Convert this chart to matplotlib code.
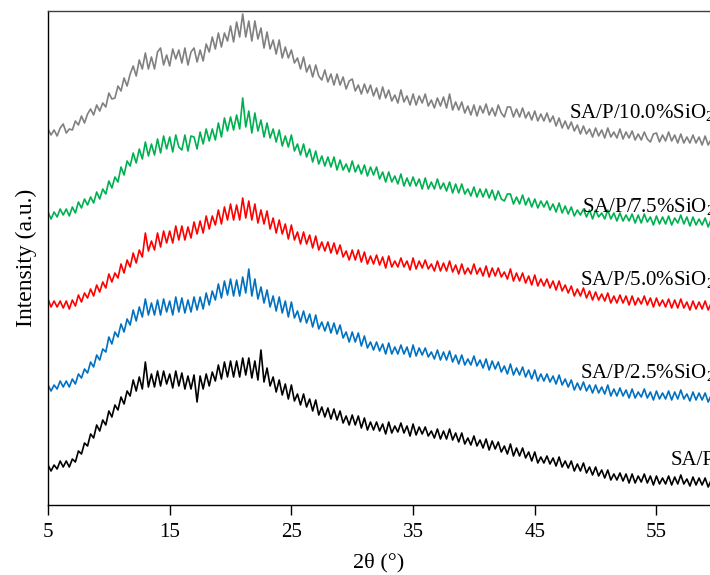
import matplotlib
matplotlib.use("Agg")
import matplotlib.pyplot as plt
import numpy as np

plt.rcParams['font.family'] = ['Liberation Serif', 'DejaVu Serif']
plt.rcParams['mathtext.fontset'] = 'custom'
plt.rcParams['mathtext.rm'] = 'Liberation Serif'
plt.rcParams['mathtext.it'] = 'Liberation Serif:italic'

# 2theta sampling (deg), values read every 0.25 deg off the picture
two_theta = np.arange(5.0, 60.0, 0.25)

# intensities (a.u., already stacked with their offsets), 4 values per degree
sap_10 = [376, 370, 375, 369, 377, 381, 372, 376, 375, 384, 380, 389,
          382, 391, 396, 390, 400, 394, 402, 398, 412, 406, 407, 419,
          414, 427, 419, 431, 439, 429, 445, 436, 452, 436, 448, 436,
          453, 457, 440, 450, 439, 456, 446, 455, 442, 457, 440, 453,
          457, 443, 455, 444, 461, 453, 468, 456, 472, 458, 472, 464,
          479, 463, 483, 468, 491, 468, 484, 464, 484, 466, 477, 457,
          473, 456, 465, 451, 465, 447, 458, 447, 455, 442, 447, 436,
          448, 433, 440, 428, 440, 429, 425, 435, 423, 431, 420, 431,
          420, 428, 416, 424, 426, 414, 420, 411, 421, 412, 420, 409,
          417, 406, 418, 407, 415, 404, 410, 402, 415, 403, 409, 400,
          411, 400, 409, 402, 411, 399, 405, 397, 407, 399, 408, 397,
          411, 395, 403, 395, 403, 392, 399, 390, 400, 389, 399, 392,
          401, 390, 397, 389, 400, 392, 388, 398, 398, 388, 396, 388,
          397, 387, 393, 385, 394, 384, 391, 384, 392, 383, 389, 379,
          387, 377, 384, 376, 383, 374, 380, 371, 379, 371, 376, 368,
          377, 369, 375, 367, 377, 368, 373, 367, 376, 366, 373, 367,
          374, 365, 371, 365, 373, 366, 363, 371, 372, 363, 370, 364,
          373, 364, 370, 362, 371, 362, 368, 362, 370, 362, 368, 360,
          369, 360, 366, 360]
sap_75 = [293, 286, 293, 288, 296, 290, 296, 289, 298, 292, 303, 297,
          306, 300, 308, 302, 313, 306, 316, 311, 324, 317, 328, 323,
          338, 330, 344, 339, 352, 342, 356, 346, 363, 349, 361, 350,
          366, 352, 369, 356, 368, 353, 370, 358, 355, 370, 354, 369,
          368, 356, 373, 361, 376, 364, 376, 365, 382, 368, 387, 374,
          388, 375, 390, 376, 407, 378, 394, 372, 392, 374, 385, 368,
          382, 367, 376, 363, 375, 359, 369, 358, 370, 354, 361, 350,
          361, 348, 356, 343, 354, 341, 349, 339, 348, 338, 348, 335,
          345, 335, 341, 333, 344, 333, 340, 331, 340, 329, 338, 330,
          338, 326, 333, 323, 333, 323, 329, 321, 331, 319, 327, 319,
          328, 319, 326, 316, 327, 316, 323, 316, 326, 316, 322, 314,
          323, 312, 321, 312, 321, 311, 316, 309, 318, 308, 316, 308,
          316, 307, 315, 305, 314, 306, 304, 311, 311, 301, 308, 301,
          310, 300, 307, 298, 306, 297, 304, 298, 304, 295, 301, 293,
          302, 292, 299, 291, 298, 289, 295, 290, 296, 288, 295, 286,
          295, 288, 292, 286, 295, 286, 292, 284, 292, 284, 290, 284,
          291, 282, 290, 282, 291, 283, 288, 280, 289, 281, 288, 281,
          289, 280, 287, 282, 290, 281, 288, 279, 288, 280, 286, 280,
          287, 278, 286, 279]
sap_50 = [206, 198, 204, 198, 204, 197, 204, 196, 205, 199, 210, 203,
          212, 207, 216, 209, 220, 213, 223, 217, 231, 223, 232, 227,
          241, 232, 245, 238, 252, 242, 255, 248, 272, 254, 264, 255,
          272, 258, 274, 262, 274, 262, 279, 265, 279, 265, 278, 267,
          283, 271, 284, 272, 289, 276, 289, 280, 295, 281, 298, 285,
          301, 285, 300, 285, 307, 287, 304, 285, 301, 282, 295, 281,
          294, 276, 287, 272, 285, 271, 281, 266, 280, 265, 273, 261,
          273, 261, 270, 257, 269, 255, 263, 254, 263, 252, 262, 251,
          260, 248, 254, 245, 255, 245, 255, 243, 253, 241, 249, 241,
          250, 240, 248, 237, 249, 238, 244, 238, 247, 238, 244, 235,
          247, 236, 244, 237, 245, 236, 241, 234, 244, 234, 242, 234,
          244, 233, 240, 231, 241, 231, 237, 231, 241, 231, 237, 229,
          239, 228, 237, 229, 237, 228, 233, 226, 236, 224, 232, 224,
          232, 222, 229, 220, 230, 219, 226, 219, 226, 217, 224, 215,
          224, 214, 220, 212, 219, 209, 216, 209, 217, 207, 214, 205,
          213, 205, 211, 204, 212, 202, 209, 202, 210, 202, 209, 200,
          209, 200, 207, 201, 209, 200, 207, 198, 207, 199, 205, 198,
          206, 197, 205, 197, 206, 197, 203, 195, 204, 196, 203, 196,
          204, 195, 202, 196]
sap_25 = [120, 114, 120, 116, 124, 118, 124, 118, 126, 121, 131, 127,
          136, 132, 143, 138, 150, 145, 156, 153, 168, 161, 173, 168,
          181, 173, 186, 180, 195, 184, 198, 188, 206, 190, 202, 190,
          205, 190, 206, 193, 204, 190, 208, 193, 207, 192, 205, 193,
          208, 195, 208, 196, 212, 200, 214, 205, 221, 207, 224, 210,
          226, 209, 225, 209, 228, 212, 236, 209, 226, 206, 218, 202,
          215, 198, 209, 194, 208, 192, 204, 188, 203, 187, 194, 183,
          194, 182, 191, 178, 190, 176, 183, 174, 183, 172, 182, 171,
          180, 167, 173, 163, 173, 163, 172, 159, 169, 157, 163, 155,
          163, 154, 161, 151, 162, 151, 158, 151, 160, 151, 158, 148,
          160, 149, 157, 150, 157, 148, 153, 146, 155, 145, 153, 145,
          154, 143, 150, 141, 150, 140, 146, 140, 149, 139, 145, 137,
          146, 135, 144, 136, 143, 133, 139, 131, 141, 130, 137, 130,
          138, 128, 135, 126, 135, 124, 131, 124, 131, 123, 129, 121,
          130, 120, 126, 118, 125, 115, 122, 115, 123, 114, 120, 112,
          120, 112, 118, 111, 120, 109, 116, 109, 117, 109, 115, 107,
          116, 107, 113, 108, 116, 107, 113, 105, 114, 106, 112, 106,
          114, 105, 113, 106, 115, 106, 111, 104, 113, 105, 112, 105,
          112, 103, 110, 104]
sap_0 = [40, 34, 40, 36, 44, 38, 44, 38, 46, 43, 54, 51,
         62, 59, 71, 67, 80, 74, 85, 80, 94, 88, 100, 95,
         108, 101, 114, 109, 125, 114, 128, 116, 143, 118, 131, 118,
         134, 119, 134, 121, 131, 117, 134, 119, 132, 116, 129, 116,
         130, 103, 129, 116, 131, 119, 133, 124, 140, 126, 143, 128,
         144, 128, 144, 128, 147, 130, 147, 127, 144, 125, 155, 123,
         137, 119, 128, 113, 125, 110, 121, 106, 120, 104, 111, 100,
         111, 98, 106, 94, 105, 90, 98, 88, 97, 86, 96, 85,
         94, 82, 89, 80, 90, 80, 89, 77, 87, 75, 83, 75,
         83, 74, 81, 71, 83, 72, 79, 73, 82, 72, 79, 69,
         81, 70, 78, 71, 78, 69, 74, 67, 76, 66, 74, 66,
         76, 65, 72, 63, 72, 61, 67, 60, 69, 59, 65, 57,
         66, 55, 64, 56, 63, 53, 59, 51, 61, 49, 57, 49,
         57, 47, 53, 44, 53, 42, 48, 42, 49, 41, 47, 39,
         48, 38, 44, 37, 44, 34, 41, 34, 42, 32, 38, 30,
         38, 29, 35, 27, 35, 25, 31, 25, 32, 24, 31, 22,
         31, 22, 29, 23, 31, 22, 29, 20, 29, 21, 27, 21,
         29, 20, 28, 21, 30, 21, 26, 19, 28, 20, 27, 20,
         27, 18, 25, 19]

series = [sap_10, sap_75, sap_50, sap_25, sap_0]
labels = ["SA/P/10.0%SiO$_2$", "SA/P/7.5%SiO$_2$", "SA/P/5.0%SiO$_2$",
          "SA/P/2.5%SiO$_2$", "SA/P"]
colors = ["#808080", "#00b050", "#ff0000", "#0070c0", "#000000"]
label_y = [387, 293, 220, 127, 40]

fig = plt.figure(figsize=(7.1, 5.75), dpi=100)
ax = fig.add_axes([48 / 710, 70 / 575, 662 / 710, 494 / 575])

for ys, c in zip(series, colors):
    ax.plot(two_theta, ys, color=c, lw=1.2)

# labels run off the right edge, as in the original figure
for lab, ly in zip(labels, label_y):
    ax.text(59.75, ly, lab, ha='right', va='baseline', fontsize=15, clip_on=False)

ax.set_xlim(5, 59.4)
ax.set_ylim(0, 494)
ax.set_xticks([5, 15, 25, 35, 45, 55])
ax.set_yticks([])
ax.tick_params(axis='x', direction='out', length=7, width=1, labelsize=15, pad=6)
ax.spines['right'].set_visible(False)
for s in ['left', 'bottom', 'top']:
    ax.spines[s].set_linewidth(1.0)
ax.spines['top'].set_color('#404040')

ax.set_xlabel("2θ (°)", fontsize=16, labelpad=8)
ax.set_ylabel("Intensity (a.u.)", fontsize=17, labelpad=8)

fig.savefig("out.png", dpi=100)
